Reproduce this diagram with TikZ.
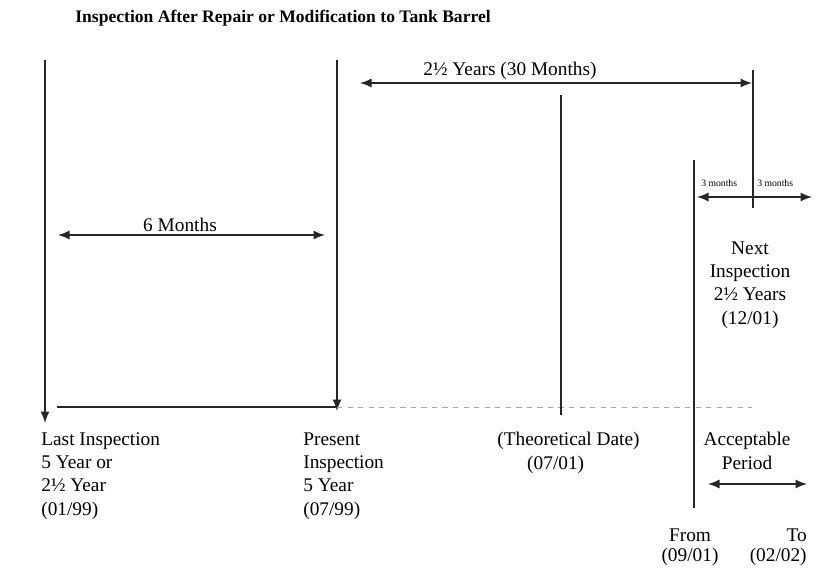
\documentclass[tikz,border=0pt]{standalone}
\usepackage{fontspec}
\setmainfont{Liberation Serif}
\usetikzlibrary{arrows.meta}
\tikzstyle{etiquette} = [inner sep=0pt, align=left, font=\fontsize{11}{13.3}\selectfont]
\tikzstyle{petit} = [inner sep=0pt, font=\fontsize{5.5}{6}\selectfont]
\tikzstyle{trait} = [draw=black!85, line width=0.75pt]
\tikzstyle{pointille} = [draw=black!35, dashed, line width=0.5pt]

\begin{document}
\begin{tikzpicture}[x=0.2mm, y=-0.2mm, >={Latex[length=2.3mm,width=1.8mm]}]

        \useasboundingbox (0,0) rectangle (824,568);

        \node (T) [etiquette, font=\bfseries\fontsize{10}{12}\selectfont, anchor=base west] at (75,23) {Inspection After Repair or Modification to Tank Barrel};

        \coordinate (A1) at (45,60);   \coordinate (A2) at (45,423);
        \coordinate (P1) at (337,60);  \coordinate (P2) at (337,411);
        \coordinate (H1) at (57,407);  \coordinate (H2) at (337,407);  \coordinate (H3) at (752,407);
        \coordinate (D1) at (561,95);  \coordinate (D2) at (561,415);
        \coordinate (N1) at (753,70);  \coordinate (N2) at (753,208);
        \coordinate (F1) at (694,160); \coordinate (F2) at (694,508);

        \draw[trait, ->] (A1) -- (A2);
        \draw[trait, ->] (P1) -- (P2);
        \draw[trait] (H1) -- (H2);
        \draw[pointille] (H2) -- (H3);
        \draw[trait] (D1) -- (D2);
        \draw[trait] (N1) -- (N2);
        \draw[trait] (F1) -- (F2);

        \coordinate (G1) at (360,83);  \coordinate (G2) at (752,83);
        \coordinate (S1) at (58,235);  \coordinate (S2) at (325,235);
        \coordinate (M1) at (697,197); \coordinate (M2) at (812,197);
        \coordinate (C1) at (708,484); \coordinate (C2) at (807,484);

        \draw[trait, <->] (G1) -- (G2);
        \draw[trait, <->] (S1) -- (S2);
        \draw[trait, <->] (M1) -- (M2);
        \draw[trait, <->] (C1) -- (C2);

        \node (E1) [etiquette, anchor=base] at (510,75) {2\textonehalf{} Years (30 Months)};
        \node (E2) [etiquette, anchor=base] at (180,231) {6 Months};
        \node (E3) [petit, anchor=base west] at (701,186) {3 months};
        \node (E4) [petit, anchor=base west] at (757,186) {3 months};

        \node (E5) [etiquette, align=center, anchor=north] at (750,241) {Next\\Inspection\\2\textonehalf{} Years\\(12/01)};

        \node (E6) [etiquette, anchor=north west] at (41,432) {Last Inspection\\5 Year or\\2\textonehalf{} Year\\(01/99)};
        \node (E7) [etiquette, anchor=north west] at (303,432) {Present\\Inspection\\5 Year\\(07/99)};
        \node (E8) [etiquette, anchor=north west] at (497,432) {(Theoretical Date)\\\hspace*{17pt}(07/01)};
        \node (E9) [etiquette, align=center, anchor=north] at (747,432) {Acceptable\\Period};

        \node (E10) [etiquette, align=center, anchor=north, font=\fontsize{11}{11.5}\selectfont] at (690,528) {From\\(09/01)};
        \node (E11) [etiquette, align=right, anchor=north east, font=\fontsize{11}{11.5}\selectfont] at (807,528) {To\\(02/02)};

\end{tikzpicture}
\end{document}
